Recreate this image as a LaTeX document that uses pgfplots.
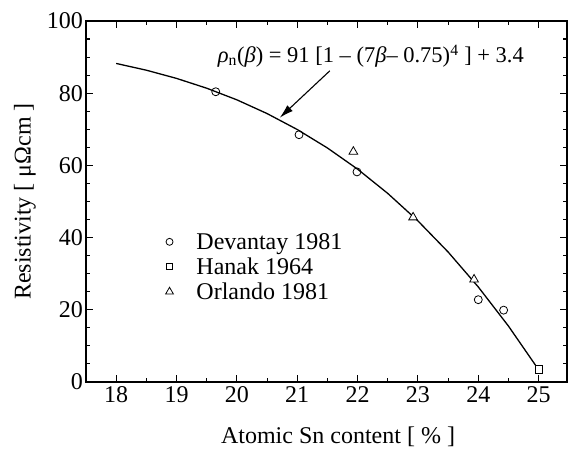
\documentclass[border=0pt]{standalone}
\usepackage{pgfplots}
\pgfplotsset{compat=1.18}
\usepackage{fontspec}
\setmainfont{Liberation Serif}
\usetikzlibrary{arrows.meta,calc}
\begin{document}
\begin{tikzpicture}
\begin{axis}[
  name=ax,
  scale only axis, width=481pt, height=361pt,
  xmin=17.5, xmax=25.47, ymin=0, ymax=100,
  xtick={18,19,...,25}, ytick={0,20,...,100},
  minor x tick num=1, minor y tick num=3,
  tick align=inside, major tick length=7pt, minor tick length=4pt,
  axis line style={line width=1.3pt}, every tick/.style={line width=1.1pt, black},
  tick label style={font=\fontsize{24}{28}\selectfont},
  yticklabel style={inner xsep=3pt},
  xticklabel style={inner ysep=4pt},
  /pgf/number format/assume math mode=true,
  label style={font=\fontsize{24}{28}\selectfont},
  xlabel={Atomic Sn content [ \% ]},
  ylabel={Resistivity [ μΩcm ]},
  xlabel style={at={(axis description cs:0.524,-0.169)}, anchor=base},
  ylabel style={at={(axis description cs:-0.127,0.5)}, anchor=center},
  legend style={draw=none, fill=none, at={(0.161,0.3186)}, anchor=west,
    font=\fontsize{24}{28}\selectfont, row sep=3pt, column sep=21pt, inner sep=2pt},
  legend cell align=left,
  clip=false,
]
\addplot[black, line width=1.3pt, forget plot] coordinates {
(18,88.24) (18.5,86.37) (19,84.10) (19.5,81.38) (20,78.16) (20.5,74.36)
(21,69.94) (21.5,64.83) (22,58.96) (22.5,52.24) (23,44.62) (23.5,36.01)
(24,26.33) (24.5,15.49) (25,3.4)};
\addplot[only marks, mark=o, mark size=4pt, mark options={fill=white, line width=0.8pt}, forget plot] coordinates {
(19.65,80.4) (21.03,68.5) (21.99,58.2) (24.0,22.8) (24.42,19.9)};
\addplot[only marks, mark=square*, mark size=3.6pt, mark options={fill=white, line width=0.8pt}, forget plot] coordinates {
(25.0,3.5)};
\addplot[only marks, mark=triangle*, mark size=5pt, mark options={fill=white, line width=0.8pt}, forget plot] coordinates {
(21.93,63.8) (22.92,45.6) (23.93,28.4)};
\addlegendimage{only marks, mark=o, mark size=3.5pt, mark options={line width=0.8pt}}
\addlegendentry{Devantay 1981}
\addlegendimage{only marks, mark=square, mark size=3pt, mark options={line width=0.8pt}}
\addlegendentry{Hanak 1964}
\addlegendimage{only marks, mark=triangle, mark size=4.5pt, mark options={line width=0.8pt}}
\addlegendentry{Orlando 1981}
\draw[-{Latex[length=14pt,width=8pt]}, line width=1.1pt] (axis cs:21.54,86.2) -- (axis cs:20.71,73.2);
\node[font=\fontsize{22.5}{26}\selectfont, anchor=base, inner sep=0pt] at (axis cs:22.22,88.4)
  {\textit{ρ}\textsubscript{n}(\textit{β}) = 91 [1 – (7\textit{β}– 0.75)\textsuperscript{4} ] + 3.4};
\end{axis}
\pgfresetboundingbox
\path[use as bounding box] ($(ax.south west)+(-86pt,-72pt)$) rectangle ($(ax.north east)+(2pt,21pt)$);
\end{tikzpicture}
\end{document}
